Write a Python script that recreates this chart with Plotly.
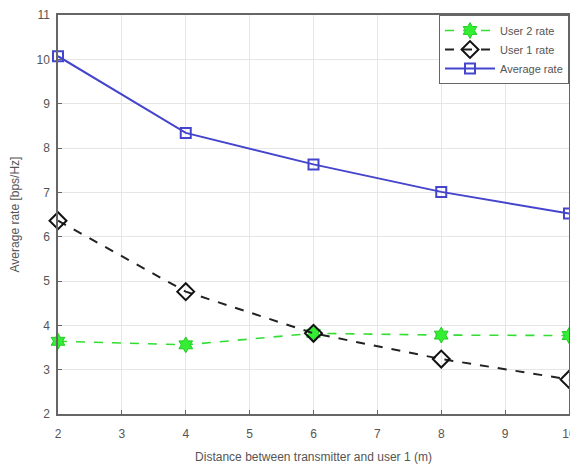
import plotly.graph_objects as go

distance = [2, 4, 6, 8, 10]
user2_rate = [3.64, 3.56, 3.82, 3.78, 3.77]
user1_rate = [6.36, 4.76, 3.82, 3.24, 2.78]
avg_rate = [10.07, 8.34, 7.63, 7.01, 6.52]

x_ticks = [2, 3, 4, 5, 6, 7, 8, 9, 10]
y_ticks = [2, 3, 4, 5, 6, 7, 8, 9, 10, 11]

fig = go.Figure()
fig.add_trace(go.Scatter(
    x=distance, y=user2_rate, name="User 2 rate", mode="lines+markers",
    line=dict(color="#33dd33", width=1.6, dash="dash"),
    marker=dict(symbol="hexagram", size=12, color="#33ee33",
                line=dict(color="#22cc22", width=1)),
    cliponaxis=False,
))
fig.add_trace(go.Scatter(
    x=distance, y=user1_rate, name="User 1 rate", mode="lines+markers",
    line=dict(color="#222222", width=2, dash="dash"),
    marker=dict(symbol="diamond-open", size=13, color="#111111",
                line=dict(width=2)),
    cliponaxis=False,
))
fig.add_trace(go.Scatter(
    x=distance, y=avg_rate, name="Average rate", mode="lines+markers",
    line=dict(color="#4444cc", width=2),
    marker=dict(symbol="square-open", size=10, color="#4444cc",
                line=dict(width=2)),
    cliponaxis=False,
))

axis_common = dict(
    showgrid=True, gridcolor="#e6e6e6", gridwidth=1,
    showline=True, linecolor="#666666", linewidth=1.5, mirror=True,
    ticks="inside", ticklen=4, tickcolor="#666666",
    tickfont=dict(family="Liberation Sans, Arial", size=12, color="#555555"),
    zeroline=False, automargin=False,
)

# page body has an 8px default margin; figure is sized to compensate
fig.update_layout(
    width=570, height=460,
    margin=dict(l=50, r=9, t=7, b=54),
    paper_bgcolor="white", plot_bgcolor="white",
    font=dict(family="Liberation Sans, Arial", size=12, color="#555555"),
    xaxis=dict(range=[2, 10], tickvals=x_ticks, ticklabelstandoff=8,
               title=dict(text="Distance between transmitter and user 1 (m)",
                          font=dict(size=12, color="#555555"), standoff=12),
               **axis_common),
    yaxis=dict(range=[2, 11], tickvals=y_ticks, ticklabelstandoff=4,
               title=dict(text="Average rate [bps/Hz]",
                          font=dict(size=12, color="#555555"), standoff=14),
               **axis_common),
    legend=dict(x=1, y=1, xanchor="right", yanchor="top",
                bgcolor="white", bordercolor="#666666", borderwidth=1,
                font=dict(size=11, color="#555555"),
                tracegroupgap=0, itemwidth=50),
    showlegend=True,
)

fig.write_html("out.html")
